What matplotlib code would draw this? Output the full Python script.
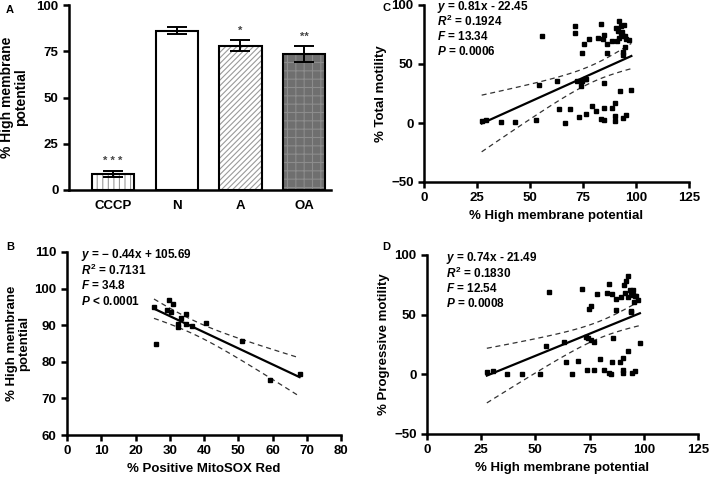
import numpy as np
import matplotlib
matplotlib.use("Agg")
import matplotlib.pyplot as plt

plt.rcParams['font.family'] = ['Liberation Sans', 'DejaVu Sans']
plt.rcParams['font.weight'] = 'bold'
plt.rcParams['axes.labelweight'] = 'bold'
plt.rcParams['mathtext.fontset'] = 'custom'
plt.rcParams['mathtext.it'] = 'Liberation Sans:italic:bold'
plt.rcParams['mathtext.rm'] = 'Liberation Sans:bold'
plt.rcParams['mathtext.bf'] = 'Liberation Sans:bold'
plt.rcParams['hatch.linewidth'] = 0.8

# ---------------- data ----------------
# Panel A
a_cats = ["CCCP", "N", "A", "OA"]
a_vals = [8.7, 86.2, 78.1, 73.6]
a_errs = [1.7, 1.7, 2.9, 4.2]
a_sig = ["* * *", "", "*", "**"]

# Panel B
b_x = [25.4, 26.0, 29.1, 29.8, 30.3, 31.0, 32.3, 32.5, 33.2, 34.7, 34.7, 36.6, 40.5, 51.0, 59.2, 67.9]
b_y = [95.1, 85.0, 94.2, 97.0, 93.5, 95.7, 90.4, 89.5, 91.9, 93.0, 90.2, 89.7, 90.6, 85.7, 75.1, 76.6]
b_fit = (-0.44, 105.69)
b_stats = ["$y$ = \u2212 0.44x + 105.69", "$R^{\\mathrm{2}}$ = 0.7131", "$F$ = 34.8", "$P$ < 0.0001"]

# Panel C
c_x = [27.2, 29.2, 36.3, 43.0, 52.6, 54.2, 55.7, 62.5, 63.6, 66.7, 69.1, 71.1, 71.4, 72.4, 73.2,
       74.0, 74.6, 74.6, 75.7, 76.0, 76.2, 76.6, 77.6, 79.4, 81.0, 82.3, 83.5, 83.7, 84.5, 84.8,
       84.8, 85.1, 85.1, 86.4, 86.5, 88.7, 88.7, 90.0, 90.3, 90.0, 90.8, 91.1, 91.5, 91.9, 91.9,
       92.3, 92.7, 93.1, 93.4, 93.9, 93.9, 93.9, 93.9, 94.4, 94.7, 94.7, 95.5, 95.5, 96.7, 97.8]
c_y = [1.7, 2.8, 0.6, 0.6, 2.8, 31.8, 73.9, 35.5, 11.6, -0.3, 11.6, 82.1, 75.9, 35.5, 5.1,
       31.0, 59.4, 35.5, 66.8, 36.9, 8.0, 37.5, 71.3, 14.5, 9.9, 72.4, 83.5, 3.4, 71.0, 12.5,
       2.8, 74.7, 33.8, 67.3, 59.4, 69.3, 12.5, 16.8, 6.3, 1.4, 80.1, 69.3, 78.1, 86.4, 72.4,
       27.0, 75.9, 82.4, 76.7, 73.6, 60.2, 57.4, 4.0, 83.0, 64.5, 73.6, 71.6, 7.1, 70.7, 28.1]
c_fit = (0.81, -22.45)
c_stats = ["$y$ = 0.81x - 22.45", "$R^{\\mathrm{2}}$ = 0.1924", "$F$ = 13.34", "$P$ = 0.0006"]

# Panel D
d_x = [27.6, 30.4, 36.8, 43.6, 52.0, 54.8, 56.3, 63.3, 64.1, 67.0, 69.6, 71.6, 73.9, 73.3, 74.2,
       74.8, 75.8, 75.8, 76.8, 76.8, 78.2, 79.8, 81.6, 82.8, 84.0, 84.0, 85.1, 85.4, 85.4, 85.9,
       87.1, 87.4, 89.0, 89.3, 90.2, 90.2, 90.2, 91.0, 91.4, 92.0, 92.5, 92.8, 92.8, 93.6, 94.0,
       94.3, 94.3, 94.5, 94.8, 95.1, 95.4, 95.9, 95.9, 96.6, 97.4, 98.2]
d_y = [1.7, 2.8, 0.0, 0.0, 0.0, 23.6, 69.2, 27.5, 10.6, 0.0, 11.1, 71.4, 3.6, 31.1, 30.3,
       54.7, 57.5, 28.9, 26.9, 3.6, 66.9, 12.8, 3.6, 67.8, 75.6, 1.4, 0.6, 67.2, 10.3, 30.3,
       63.3, 54.2, 10.3, 64.4, 13.6, 3.3, 1.4, 74.7, 68.1, 78.3, 82.5, 64.4, 19.7, 70.8, 53.3,
       68.6, 51.9, 1.4, 66.4, 70.8, 60.3, 65.3, 2.5, 65.8, 62.5, 26.1]
d_fit = (0.74, -21.49)
d_stats = ["$y$ = 0.74x - 21.49", "$R^{\\mathrm{2}}$ = 0.1830", "$F$ = 12.54", "$P$ = 0.0008"]

# ---------------- figure ----------------
W, H = 709, 479
fig = plt.figure(figsize=(W / 100, H / 100), dpi=100)

def px_axes(x0, x1, ytop, ybot):
    return fig.add_axes([x0 / W, (H - ybot) / H, (x1 - x0) / W, (ybot - ytop) / H])

SPW = 1.8
FS_T = 9.5
FS_L = 9.5
FS_S = 8.5

def style(ax):
    for s in ["top", "right"]:
        ax.spines[s].set_visible(False)
    for s in ["left", "bottom"]:
        ax.spines[s].set_linewidth(SPW)
    ax.tick_params(width=SPW, length=4, labelsize=FS_T, direction='out')
    for lab in ax.get_xticklabels() + ax.get_yticklabels():
        lab.set_fontweight('bold')

def panel_scatter(ax, x, y, fit, stats, xlim, ylim, xticks, yticks, xlabel, ylabel, tval, txt_xy):
    x = np.asarray(x); y = np.asarray(y)
    slope, icpt = fit
    n = len(x)
    res = y - (slope * x + icpt)
    s = np.sqrt(np.sum(res ** 2) / (n - 2))
    xbar = x.mean(); sxx = np.sum((x - xbar) ** 2)
    xs = np.linspace(x.min(), x.max(), 100)
    yfit = slope * xs + icpt
    half = tval * s * np.sqrt(1.0 / n + (xs - xbar) ** 2 / sxx)
    ax.plot(xs, yfit, color='black', lw=1.6, zorder=3)
    ax.plot(xs, yfit + half, color='#333333', lw=0.9, ls=(0, (4, 3)), zorder=3)
    ax.plot(xs, yfit - half, color='#333333', lw=0.9, ls=(0, (4, 3)), zorder=3)
    ax.plot(x, y, ls='none', marker='s', ms=3.0, color='black', mec='black', zorder=4)
    ax.set_xlim(*xlim); ax.set_ylim(*ylim)
    ax.set_xticks(xticks); ax.set_yticks(yticks)
    ax.set_xlabel(xlabel, fontsize=FS_L, fontweight='bold', labelpad=4)
    ax.set_ylabel(ylabel, fontsize=FS_L, fontweight='bold', labelpad=3)
    style(ax)
    tx, ty = txt_xy
    for i, t in enumerate(stats):
        ax.text(tx, ty - i * 0.085, t, transform=ax.transAxes, fontsize=FS_S,
                fontweight='bold', va='center', ha='left')

# Panel A
axA = px_axes(69, 331, 5, 190)
pos = np.arange(len(a_cats))
bw = 0.66
face = ['white', 'white', 'white', '#6f6f6f']
hatches = ['|||', None, '//////', '++']
hcol = ['#9a9a9a', 'white', '#9a9a9a', '#8c8c8c']
for i in range(len(a_cats)):
    axA.bar(pos[i], a_vals[i], width=bw, color=face[i], hatch=hatches[i],
            edgecolor=hcol[i], linewidth=0, zorder=2)
    axA.bar(pos[i], a_vals[i], width=bw, color='none', edgecolor='black',
            linewidth=1.5, zorder=3)
axA.errorbar(pos, a_vals, yerr=a_errs, fmt='none', ecolor='black', elinewidth=1.4,
             capsize=7, capthick=1.4, zorder=4)
for i in range(len(a_cats)):
    if a_sig[i]:
        axA.text(pos[i], a_vals[i] + a_errs[i] + 2.5, a_sig[i], ha='center', va='bottom',
                 fontsize=8, fontweight='bold', color='#444444')
axA.set_xlim(-0.69, 3.42)
axA.set_ylim(0, 100)
axA.set_yticks([0, 25, 50, 75, 100])
axA.set_xticks(pos)
axA.set_xticklabels(a_cats)
axA.set_ylabel("% High membrane\npotential", fontsize=FS_L + 0.5, fontweight='bold', labelpad=6,
               linespacing=1.0)
style(axA)
axA.tick_params(axis='x', length=0, pad=7)

# Panel B
axB = px_axes(67, 341, 252, 435)
panel_scatter(axB, b_x, b_y, b_fit, b_stats, (0, 80), (60, 110), np.arange(0, 81, 10),
              np.arange(60, 111, 10), "% Positive MitoSOX Red", "% High membrane\npotential",
              2.145, (0.05, 0.985))
axB.yaxis.label.set_linespacing(1.0)

# Panel C
axC = px_axes(424, 689, 5, 182)
panel_scatter(axC, c_x, c_y, c_fit, c_stats, (0, 125), (-50, 100), np.arange(0, 126, 25),
              [-50, 0, 50, 100], "% High membrane potential", "% Total motility",
              2.0, (0.05, 0.99))

# Panel D
axD = px_axes(427, 698, 255, 434)
panel_scatter(axD, d_x, d_y, d_fit, d_stats, (0, 125), (-50, 100), np.arange(0, 126, 25),
              [-50, 0, 50, 100], "% High membrane potential", "% Progressive motility",
              2.0, (0.07, 0.985))

# Panel letters
for lab, (x, y) in {"A": (10, 10), "B": (10, 247), "C": (386, 8), "D": (386, 247)}.items():
    fig.text(x / W, 1 - y / H, lab, fontsize=8, fontweight='bold', ha='center', va='center')

fig.savefig("out.png", dpi=100)
